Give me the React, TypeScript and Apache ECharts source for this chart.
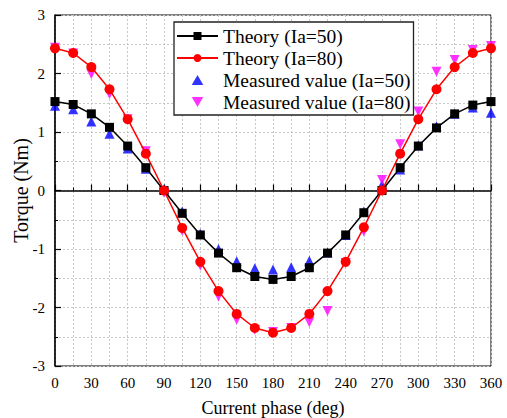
import React, { useEffect, useRef } from "react";
import * as echarts from "echarts";

const phases = [0, 15, 30, 45, 60, 75, 90, 105, 120, 135, 150, 165, 180, 195, 210, 225, 240, 255, 270, 285, 300, 315, 330, 345, 360];
const theory50 = [1.52, 1.47, 1.31, 1.08, 0.76, 0.39, 0, -0.39, -0.76, -1.07, -1.32, -1.47, -1.52, -1.47, -1.32, -1.07, -0.76, -0.38, 0, 0.39, 0.76, 1.07, 1.31, 1.46, 1.52];
const theory80 = [2.43, 2.35, 2.11, 1.73, 1.22, 0.63, 0, -0.64, -1.22, -1.72, -2.11, -2.35, -2.43, -2.35, -2.11, -1.72, -1.22, -0.63, 0, 0.63, 1.22, 1.73, 2.11, 2.35, 2.43];
const meas50 = [1.45, 1.39, 1.18, 0.97, 0.72, 0.37, 0.02, -0.36, -0.74, -1.0, -1.21, -1.33, -1.35, -1.31, -1.2, -1.06, -0.76, -0.36, 0.1, 0.36, 0.77, 1.1, 1.31, 1.42, 1.33];
const meas80 = [2.44, 2.34, 1.99, 1.65, 1.22, 0.67, -0.04, -0.69, -1.28, -1.81, -2.21, -2.38, -2.42, -2.35, -2.25, -2.06, -1.24, -0.7, 0.18, 0.79, 1.35, 2.03, 2.23, 2.4, 2.47];
const seriesNames = ["Theory (Ia=50)", "Theory (Ia=80)", "Measured value (Ia=50)", "Measured value (Ia=80)"];

const FONT = "Liberation Serif";
const UP_TRI = "path://M5,0 L10,8.66 L0,8.66 Z";
const DOWN_TRI = "path://M0,0 L10,0 L5,8.66 Z";

const pairs = (vals: number[]) => phases.map((p, i) => [p, vals[i]]);

export default function App() {
  const ref = useRef<HTMLDivElement>(null);
  useEffect(() => {
    if (!ref.current) return;
    const chart = echarts.init(ref.current, undefined, { renderer: "svg" });
    const gridLine = { show: true, lineStyle: { color: "#c8c8c8", type: [2, 2] as any, width: 1 } };
    chart.setOption({
      animation: false,
      backgroundColor: "#fff",
      textStyle: { fontFamily: FONT },
      grid: {
        left: 55, right: 16, top: 15, bottom: 52,
        outerBoundsMode: "none",
        containLabel: false,
        show: true, borderColor: "#000", borderWidth: 1, backgroundColor: "transparent",
      },
      legend: {
        left: 174,
        top: 22,
        orient: "vertical",
        data: [
          { name: seriesNames[0] },
          { name: seriesNames[1] },
          { name: seriesNames[2], icon: UP_TRI },
          { name: seriesNames[3], icon: DOWN_TRI },
        ],
        symbolKeepAspect: true,
        itemWidth: 41,
        itemHeight: 10,
        itemGap: 2,
        itemTextGap: 5,
        padding: [4, 3, 3, 2],
        borderColor: "#222",
        borderWidth: 1.3,
        backgroundColor: "#fff",
        textStyle: { fontFamily: FONT, fontSize: 19.5, color: "#000", lineHeight: 20 },
      },
      xAxis: {
        type: "value",
        min: 0,
        max: 360,
        interval: 30,
        name: "Current phase (deg)",
        nameLocation: "middle",
        nameGap: 33,
        nameMoveOverlap: false,
        nameTextStyle: { fontFamily: FONT, fontSize: 18, color: "#000" },
        axisLine: { show: true, lineStyle: { color: "#000", width: 1.5 } },
        axisTick: { show: true, inside: true, length: 6, lineStyle: { color: "#000", width: 1.2 } },
        minorTick: { show: true, splitNumber: 2, length: 3, lineStyle: { color: "#000", width: 1 } },
        axisLabel: { fontFamily: FONT, fontSize: 15, color: "#000", margin: 9 },
        splitLine: gridLine,
        minorSplitLine: gridLine,
      },
      yAxis: {
        type: "value",
        min: -3,
        max: 3,
        interval: 1,
        name: "Torque (Nm)",
        nameLocation: "middle",
        nameGap: 24,
        nameMoveOverlap: false,
        nameTextStyle: { fontFamily: FONT, fontSize: 20, color: "#000" },
        axisLine: { show: true, lineStyle: { color: "#000", width: 1.5 } },
        axisTick: { show: true, inside: true, length: 6, lineStyle: { color: "#000", width: 1.2 } },
        minorTick: { show: true, splitNumber: 2, length: 3, lineStyle: { color: "#000", width: 1 } },
        axisLabel: { fontFamily: FONT, fontSize: 15, color: "#000", margin: 10 },
        splitLine: gridLine,
        minorSplitLine: gridLine,
      },
      series: [
        {
          name: seriesNames[0],
          type: "line",
          data: pairs(theory50),
          symbol: "rect",
          symbolSize: 9,
          itemStyle: { color: "#000" },
          lineStyle: { color: "#000", width: 1.5 },
        },
        {
          name: seriesNames[1],
          type: "line",
          data: pairs(theory80),
          symbol: "circle",
          symbolSize: 10,
          itemStyle: { color: "#ff0000" },
          lineStyle: { color: "#ff0000", width: 1.5 },
        },
        {
          name: seriesNames[2],
          type: "scatter",
          data: pairs(meas50),
          symbol: "triangle",
          symbolSize: 10,
          itemStyle: { color: "#0000ff" },
        },
        {
          name: seriesNames[3],
          type: "scatter",
          data: pairs(meas80),
          symbol: "triangle",
          symbolRotate: 180,
          symbolSize: 10,
          itemStyle: { color: "#ff00ff" },
        },
      ],
    });
    return () => chart.dispose();
  }, []);
  return <div ref={ref} style={{ position: "fixed", left: 0, top: 0, width: 507, height: 418 }} />;
}
